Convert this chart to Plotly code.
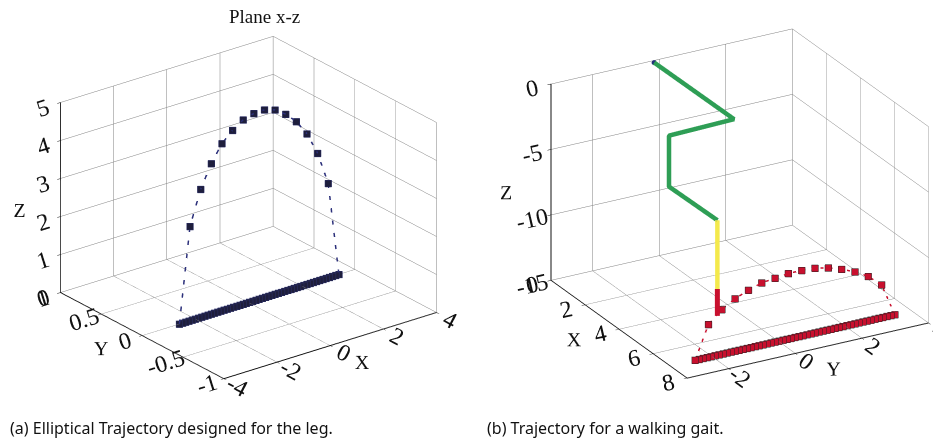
import plotly.graph_objects as go

# ---------------- data: (a) elliptical trajectory (plane x-z, y = 0) ----------------
swing_x = [-2.6, -2.2, -1.8, -1.4, -1.0, -0.6, -0.2, 0.2, 0.6, 1.0, 1.4, 1.8, 2.2, 2.6, 3.0, 3.4]
swing_z = [0.0, 2.48, 3.37, 3.96, 4.40, 4.66, 4.85, 4.93, 4.94, 4.85, 4.65, 4.37, 3.96, 3.36, 2.48, 0.0]
stance_x = [3.4, 3.28, 3.16, 3.04, 2.92, 2.8, 2.68, 2.56, 2.44, 2.32, 2.2, 2.08, 1.96, 1.84, 1.72,
            1.6, 1.48, 1.36, 1.24, 1.12, 1.0, 0.88, 0.76, 0.64, 0.52, 0.4, 0.28, 0.16, 0.04, -0.08,
            -0.2, -0.32, -0.44, -0.56, -0.68, -0.8, -0.92, -1.04, -1.16, -1.28, -1.4, -1.52, -1.64,
            -1.76, -1.88, -2.0, -2.12, -2.24, -2.36, -2.48, -2.6]

# ---------------- data: (b) walking gait ----------------
gait_swing_y = [-2.5, -2.1, -1.7, -1.3, -0.9, -0.5, -0.1, 0.3, 0.7, 1.1, 1.5, 1.9, 2.3, 2.7, 3.1, 3.5]
gait_swing_z = [-15.0, -12.5, -11.6, -11.0, -10.58, -10.25, -10.13, -10.0, -10.0, -10.06, -10.27,
                -10.61, -11.04, -11.62, -12.5, -15.0]
gait_stance_y = [3.5, 3.38, 3.26, 3.14, 3.02, 2.9, 2.78, 2.66, 2.54, 2.42, 2.3, 2.18, 2.06, 1.94,
                 1.82, 1.7, 1.58, 1.46, 1.34, 1.22, 1.1, 0.98, 0.86, 0.74, 0.62, 0.5, 0.38, 0.26,
                 0.14, 0.02, -0.1, -0.22, -0.34, -0.46, -0.58, -0.7, -0.82, -0.94, -1.06, -1.18,
                 -1.3, -1.42, -1.54, -1.66, -1.78, -1.9, -2.02, -2.14, -2.26, -2.38, -2.5]
gait_x = 7.0
gait_floor_z = -15.0

# leg links (hip -> ... -> tibia top), tibia (yellow) and foot (red)
leg_x = [0.13, 2.34, 1.22, 1.22, 7.0]
leg_y = [-0.22, 1.05, -0.33, -0.33, -1.83]
leg_z = [0.0, -3.0, -4.5, -8.4, -4.7]
tibia_x = [7.0, 7.0]
tibia_y = [-1.83, -1.83]
tibia_z = [-4.7, -9.95]
foot_x = [7.0, 7.0]
foot_y = [-1.83, -1.83]
foot_z = [-9.95, -12.0]

# ticks
a_xticks = [-4, -2, 0, 2, 4]
a_yticks = [-1, -0.5, 0, 0.5, 1]
a_zticks = [0, 1, 2, 3, 4, 5]
b_xticks = [0, 2, 4, 6, 8]
b_yticks = [-2, 0, 2, 4]
b_zticks = [-15, -10, -5, 0]

SERIF = "Liberation Serif"
fig = go.Figure()

# (a)
fig.add_trace(go.Scatter3d(
    x=swing_x + stance_x, y=[0.0] * (len(swing_x) + len(stance_x)),
    z=swing_z + [0.0] * len(stance_x),
    mode="lines+markers",
    line=dict(color="#2b2f7a", width=3, dash="dash"),
    marker=dict(symbol="square", size=3.5, color="#1e1e3c", line=dict(color="#2b2f6a", width=1)),
    scene="scene", showlegend=False))

# (b)
fig.add_trace(go.Scatter3d(
    x=[gait_x] * (len(gait_swing_y) + len(gait_stance_y)),
    y=gait_swing_y + gait_stance_y,
    z=gait_swing_z + [gait_floor_z] * len(gait_stance_y),
    mode="lines+markers",
    line=dict(color="#c8102e", width=3, dash="dash"),
    marker=dict(symbol="square", size=3.5, color="#c8102e", line=dict(color="#222222", width=1)),
    scene="scene2", showlegend=False))
fig.add_trace(go.Scatter3d(x=leg_x, y=leg_y, z=leg_z, mode="lines",
                           line=dict(color="#2e9e55", width=9), scene="scene2", showlegend=False))
fig.add_trace(go.Scatter3d(x=tibia_x, y=tibia_y, z=tibia_z, mode="lines",
                           line=dict(color="#f4e94c", width=9), scene="scene2", showlegend=False))
fig.add_trace(go.Scatter3d(x=foot_x, y=foot_y, z=foot_z, mode="lines",
                           line=dict(color="#c8102e", width=10), scene="scene2", showlegend=False))
fig.add_trace(go.Scatter3d(x=leg_x[:1], y=leg_y[:1], z=leg_z[:1], mode="markers",
                           marker=dict(color="#23307a", size=3), scene="scene2", showlegend=False))


def ax(title, rng, ticks):
    return dict(
        title=dict(text=title, font=dict(family=SERIF, size=20, color="#111")),
        range=rng, autorange=False, tickvals=ticks, ticktext=["%g" % t for t in ticks],
        tickfont=dict(family=SERIF, size=17, color="#111"),
        showgrid=True, gridcolor="#808080", gridwidth=1,
        showline=True, linecolor="#111", linewidth=2,
        zeroline=False, showbackground=False, showspikes=False,
        ticks="outside", ticklen=4, tickcolor="#111",
    )


ka = 1.358   # zoom factor of scene (a) box
kb = 1.432   # zoom factor of scene (b) box
ea = (-0.557, -0.725, 0.405)
eb = (0.796, -0.449, 0.405)
# pan of scene (b) inside its (wider) domain, in scene units along the screen-right vector
pan_b = 0.0868
rb_vec = (0.491, 0.871)
cb = (-pan_b * rb_vec[0], -pan_b * rb_vec[1], 0.0)

fig.update_layout(
    width=941, height=441,
    margin=dict(l=0, r=0, t=0, b=0),
    paper_bgcolor="white",
    scene=dict(
        domain=dict(x=[0.0, 0.5112], y=[0.1, 0.995]),
        xaxis=ax("X", [-4, 4], a_xticks),
        yaxis=ax("Y", [-1, 1], a_yticks),
        zaxis=ax("Z", [0, 5], a_zticks),
        aspectmode="manual", aspectratio=dict(x=ka, y=ka, z=0.775 * ka),
        camera=dict(eye=dict(x=ea[0] * 2, y=ea[1] * 2, z=ea[2] * 2),
                    up=dict(x=0, y=0, z=1), center=dict(x=0, y=0, z=0),
                    projection=dict(type="orthographic")),
    ),
    scene2=dict(
        domain=dict(x=[0.52, 1.0], y=[0.118, 0.9954]),
        xaxis=ax("X", [0, 8], b_xticks),
        yaxis=ax("Y", [-3.25, 4], b_yticks),
        zaxis=ax("Z", [-15, 0], b_zticks),
        aspectmode="manual", aspectratio=dict(x=kb, y=kb, z=0.775 * kb),
        camera=dict(eye=dict(x=eb[0] * 2 + cb[0], y=eb[1] * 2 + cb[1], z=eb[2] * 2 + cb[2]),
                    up=dict(x=0, y=0, z=1), center=dict(x=cb[0], y=cb[1], z=cb[2]),
                    projection=dict(type="orthographic")),
    ),
    annotations=[
        dict(text="Plane x-z", x=0.2731, y=0.9807, xref="paper", yref="paper",
             xanchor="center", yanchor="middle", showarrow=False,
             font=dict(family=SERIF, size=19, color="#111")),
        dict(text="(a) Elliptical Trajectory designed for the leg.", x=0.0, y=0.0476,
             xref="paper", yref="paper", xanchor="left", yanchor="middle", showarrow=False,
             font=dict(family="Noto Sans", size=16, color="#111")),
        dict(text="(b) Trajectory for a walking gait.", x=0.5069, y=0.0476,
             xref="paper", yref="paper", xanchor="left", yanchor="middle", showarrow=False,
             font=dict(family="Noto Sans", size=16, color="#111")),
    ],
)

fig.write_html("out.html")
